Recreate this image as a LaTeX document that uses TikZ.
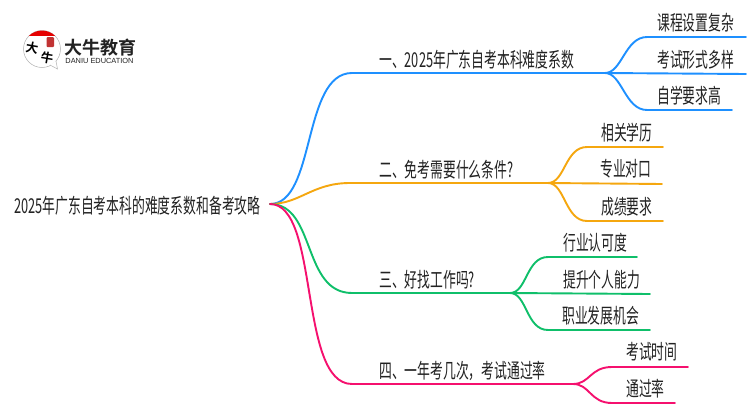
\documentclass[tikz,border=0pt]{standalone}
\usepackage{fontspec}
\setmainfont{Liberation Sans}
\newfontfamily\cjk[FakeStretch=0.625]{Noto Sans CJK SC}
\newfontfamily\logocjk{Noto Sans CJK SC Bold}
\definecolor{lineblue}{HTML}{1E90FF}
\definecolor{lineorange}{HTML}{F5A70F}
\definecolor{linegreen}{HTML}{0FBF6A}
\definecolor{linepink}{HTML}{F5106E}
\definecolor{inkgray}{HTML}{222222}
\tikzset{
  lbl/.style={anchor=west, inner sep=0pt, text=inkgray, font=\cjk\fontsize{20.5}{20.5}\selectfont},
  wire/.style={line width=1.9pt, line cap=round}
}
\begin{document}
\begin{tikzpicture}[x=1pt, y=-1pt]
\useasboundingbox (0,0) rectangle (750,410);

% logo
\fill[white] (0,0) rectangle (750,410);
\draw[gray!60, line width=0.5pt, fill=white] (42,49) circle[radius=18.5];
\draw[gray!60, line width=0.5pt, fill=white] (50,65) -- (57.5,69) -- (56,61);
\begin{scope}
  \clip (23,30) rectangle (61,35.5);
  \fill[red!90!black] (42,49) circle[radius=18.5];
\end{scope}
\fill[red!70!black, opacity=0.8, rounded corners=1pt] (46.5,37) rectangle (54,47);
\node (dalogo) at (32,48) [inner sep=0pt, text=black, rotate=-10, font=\logocjk\fontsize{12.5}{12.5}\selectfont] {大};
\node (niulogo) at (47,58) [inner sep=0pt, text=black, rotate=-10, font=\logocjk\fontsize{12.5}{12.5}\selectfont] {牛};
\node (logoname) at (100,48) [inner sep=0pt, text=inkgray, font=\logocjk\fontsize{18}{18}\selectfont] {大牛教育};
\node (logosub) at (99.5,60.5) [inner sep=0pt, text=inkgray, font=\fontsize{7.4}{7.4}\selectfont] {DANIU EDUCATION};

% text
\node[lbl] (root) at (14,206) {2025年广东自考本科的难度系数和备考攻略};
\node[lbl] (a) at (379,60) {一、2025年广东自考本科难度系数};
\node[lbl] (a1) at (657,23) {课程设置复杂};
\node[lbl] (a2) at (657,60) {考试形式多样};
\node[lbl] (a3) at (657,96) {自学要求高};
\node[lbl] (b) at (379,170) {二、免考需要什么条件?};
\node[lbl] (b1) at (601,133) {相关学历};
\node[lbl] (b2) at (600,169) {专业对口};
\node[lbl] (b3) at (601,207) {成绩要求};
\node[lbl] (c) at (379,280) {三、好找工作吗?};
\node[lbl] (c1) at (563,243) {行业认可度};
\node[lbl] (c2) at (563,280) {提升个人能力};
\node[lbl] (c3) at (562,316) {职业发展机会};
\node[lbl] (d) at (379,371) {四、一年考几次\symbol{"FF0C}考试通过率};
\node[lbl] (d1) at (626,352) {考试时间};
\node[lbl] (d2) at (626,389) {通过率};

% connectors
\coordinate (o) at (270,204);
\coordinate (ae) at (605,73);
\coordinate (be) at (548,183);
\coordinate (ce) at (510,293);
\coordinate (de) at (573,384);

\draw[wire, lineblue] (o) .. controls (316,204) and (302,73) .. (352,73) -- (ae);
\draw[wire, lineorange] (o) .. controls (300,204) and (312,183) .. (350,183) -- (be);
\draw[wire, linegreen] (o) .. controls (316,204) and (302,293) .. (352,293) -- (ce);
\draw[wire, linepink] (o) .. controls (320,204) and (298,384) .. (352,384) -- (de);

\draw[wire, lineblue] (ae) .. controls (622,73) and (625,37) .. (647,37) -- (746,37);
\draw[wire, lineblue] (ae) -- (746,74);
\draw[wire, lineblue] (ae) .. controls (622,73) and (625,110) .. (647,110) -- (732,110);

\draw[wire, lineorange] (be) .. controls (565,183) and (565,147) .. (587,147) -- (663,147);
\draw[wire, lineorange] (be) -- (662,184);
\draw[wire, lineorange] (be) .. controls (565,183) and (565,221) .. (587,221) -- (663,221);

\draw[wire, linegreen] (ce) .. controls (527,293) and (526,257) .. (548,257) -- (637,257);
\draw[wire, linegreen] (ce) -- (650,294);
\draw[wire, linegreen] (ce) .. controls (527,293) and (526,330) .. (548,330) -- (650,330);

\draw[wire, linepink] (de) .. controls (590,384) and (590,367) .. (612,367) -- (688,367);
\draw[wire, linepink] (de) .. controls (590,384) and (590,403) .. (612,403) -- (675,403);
\end{tikzpicture}
\end{document}
